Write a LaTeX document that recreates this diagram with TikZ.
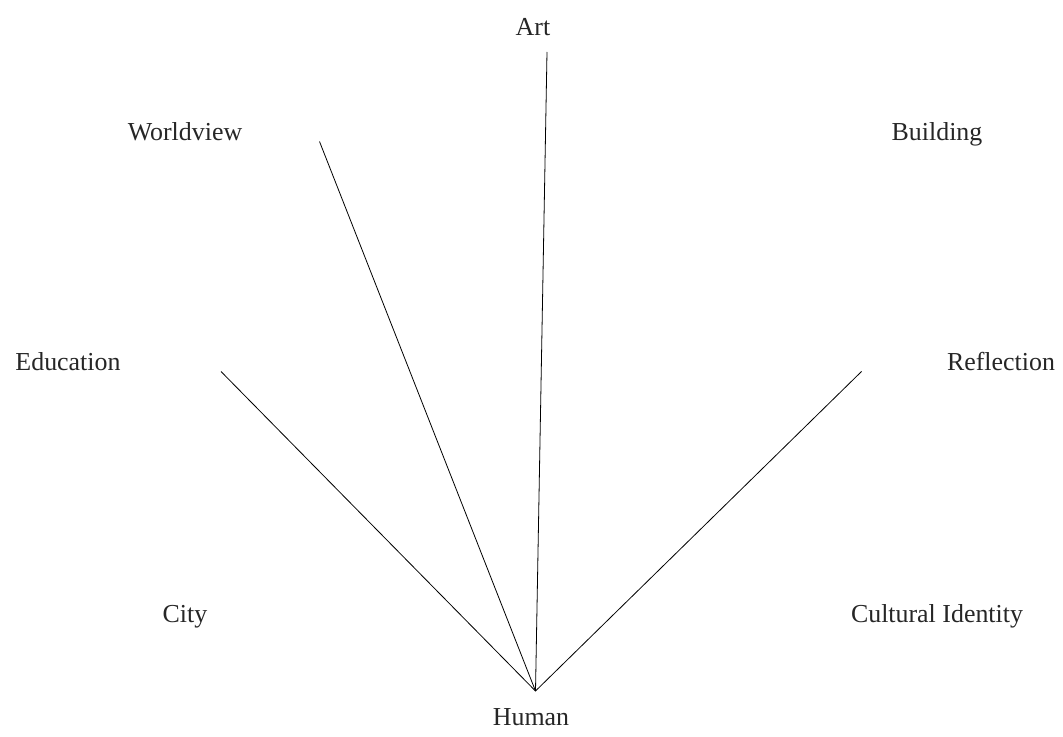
\documentclass[tikz,border=0pt]{standalone}
\usepackage{fontspec}
\setmainfont{Liberation Serif}
\usepackage{tikz}
\usetikzlibrary{positioning}

\begin{document}
\begin{tikzpicture}[
  x=1bp, y=-1bp,
  concept/.style={
    text=black!85,
    inner sep=0pt,
    text height=0.7em,
    text depth=0.22em,
    font=\fontsize{26}{30}\selectfont
  },
  spoke/.style={draw=black, line width=0.8bp}
]
\useasboundingbox (0,0) rectangle (1063,737);

\node[concept] (art) at (533,33) {Art};
\node[concept] (worldview) at (185,138) {Worldview};
\node[concept] (building) at (937,138) {Building};
\node[concept] (education) at (68,368) {Education};
\node[concept] (reflection) at (1001,368) {Reflection};
\node[concept] (city) at (185,620) {City};
\node[concept] (identity) at (937,620) {Cultural Identity};
\node[concept] (human) at (531,723) {Human};

\coordinate (hub) at (535.5,691);
\coordinate (artend) at (547,52);
\coordinate (worldend) at (319.5,141.5);
\coordinate (eduend) at (221,371.5);
\coordinate (reflend) at (861.5,371.5);

\draw[spoke] (hub) -- (artend);
\draw[spoke] (hub) -- (worldend);
\draw[spoke] (hub) -- (eduend);
\draw[spoke] (hub) -- (reflend);

\end{tikzpicture}
\end{document}
